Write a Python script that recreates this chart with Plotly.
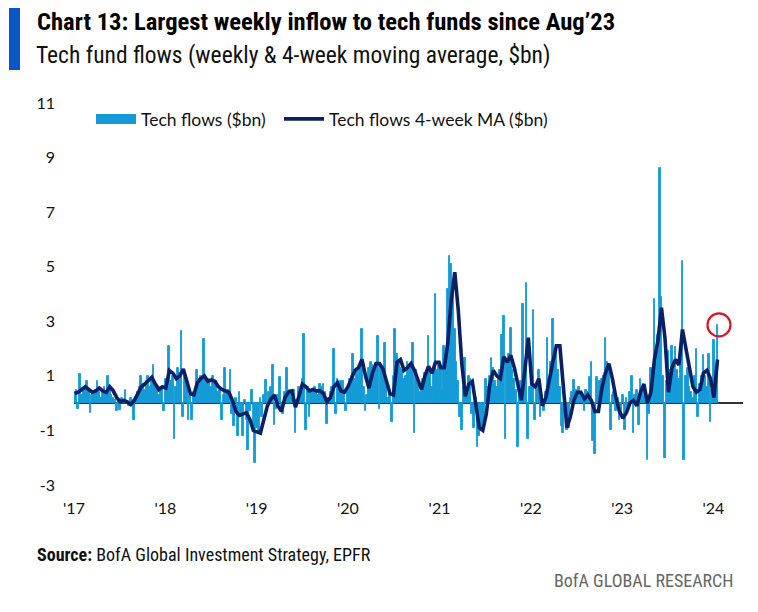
import pandas as pd
import plotly.graph_objects as go

# ---------------- data ($bn) ----------------
years = [2017, 2018, 2019, 2020, 2021, 2022, 2023, 2024]

flows_2017 = [0.4, 0.5, -0.2, 1.05, 0.3, 0.5, 0.6, 0.8, 0.5, -0.35, 0.3, 0.4, 0.5, 0.8, 0.4, 0.2, 0.5, 0.6, 0.4, 1.0,
              0.6, 0.3, 0.2, 0.1, -0.3, 0.1, -0.25, 0.2, 0.1, 0.5, 0.0, -0.1, 0.2, 0.1, -0.6, 0.2, 0.4, 0.6, 1.0, 0.7,
              0.5, 0.8, 1.0, 0.6, 0.9, 1.4, 0.7, 0.5, 0.3, 0.6, 0.6, -0.3]
flows_2018 = [0.9, 0.6, 2.1, 0.8, 1.0, -1.3, 0.6, 1.3, 1.1, 2.65, -0.5, 1.0, 0.8, -0.6, 0.3, -0.6, 0.4, 0.5, 1.2, 0.9,
              1.0, 0.8, 2.35, 0.9, 0.7, 0.9, 0.6, 1.0, 0.7, 0.8, 0.4, 0.5, -0.6, 0.3, 1.3, 0.4, 0.5, 1.2, -0.4, -0.85,
              0.2, -1.2, 0.4, -0.5, -1.2, 0.1, -0.6, -1.7, -0.3, 0.5, -0.8, -2.2]
flows_2019 = [-0.9, -1.1, 0.2, -0.5, 0.3, 0.85, -0.3, 0.4, 0.6, 1.4, -0.8, -0.2, 0.3, 0.95, -0.3, -0.4, 0.4, 1.3, 0.3, 0.5,
              0.2, 0.5, -1.1, 0.1, 0.6, 0.4, 0.9, 2.55, -1.0, 0.6, -0.5, 0.5, 0.4, 0.6, 0.5, 0.3, 0.7, 0.6, 0.7, 0.4,
              -0.75, 0.2, 0.4, 0.6, 2.0, -0.4, 0.9, 0.6, 0.8, 0.8, 0.3, -0.3]
flows_2020 = [0.5, 0.9, 1.0, 1.8, 0.9, 1.2, 1.0, 1.4, 2.7, 0.6, -0.3, 0.3, 1.3, 1.5, 1.4, 1.0, 1.3, 2.45, -0.2, 1.4,
              1.2, 2.2, 0.6, 0.2, 0.3, -0.7, 1.0, 2.7, 1.8, 1.5, 1.3, 1.2, 0.9, 1.0, 1.5, 1.4, 1.3, 2.2, -1.1, 1.2,
              0.9, 0.4, 0.6, 0.9, 1.1, 1.0, 2.45, 1.3, 0.6, 1.2, 4.0, 1.2, 1.5]
flows_2021 = [1.2, 0.5, 2.1, 1.4, 4.2, 5.4, 5.1, 4.4, 2.7, 1.5, 0.8, -0.5, -1.0, 0.6, 1.65, 0.5, 1.0, 0.9, -0.4, -0.9,
              0.2, -1.6, -1.2, -1.0, -0.8, -0.5, 0.9, 0.6, 1.0, 1.65, 1.3, 0.8, 0.6, 0.9, 1.2, 2.5, 3.2, -1.3, 1.5, 1.8,
              2.75, 1.2, 0.9, 0.5, -1.6, 0.3, 0.8, 3.65, 1.5, 4.4, -1.3, 0.6]
flows_2022 = [0.8, 3.4, -0.6, 0.5, 1.2, -0.5, 0.3, -0.3, 0.4, 2.4, 0.9, 1.5, 3.1, 1.8, 2.0, 1.2, 0.6, -0.85, -1.1, -0.4,
              -1.0, -0.9, 0.2, 0.4, 0.85, 0.5, 0.3, 0.6, 0.4, 0.1, -0.3, 0.5, 0.4, 0.95, 1.5, -1.4, -1.85, 0.95, 0.3, 0.8,
              0.9, 1.0, 2.4, 1.5, 1.3, -1.0, 0.3, 0.4, -0.3, 0.2, -0.6, -0.4]
flows_2023 = [0.3, -1.0, 0.2, -0.3, 0.4, 1.0, -1.1, 0.3, 0.5, -0.8, 0.9, 0.5, 0.6, 0.2, -2.1, -0.4, 1.3, 0.9, 3.8, 1.5,
              2.5, 8.6, 3.9, 1.0, -2.0, 0.8, 1.9, 1.2, 2.1, 1.5, 2.05, 1.2, 0.9, 1.4, 5.2, -2.1, 1.0, 1.3, 0.6, 0.4,
              0.2, 1.0, 2.0, -0.5, 0.7, 1.0, 1.75, 1.0, 0.6, 1.8, -0.7, 0.5]
flows_2024 = [2.3, 1.2, 2.85]

# 4-week moving average, read every second week
ma_2017 = [0.35, 0.4, 0.5, 0.6, 0.5, 0.4, 0.45, 0.55, 0.45, 0.4, 0.6, 0.45, 0.2, 0.05, 0.1, 0.05, -0.05, 0.1, 0.35,
           0.6, 0.7, 0.85, 0.95, 0.7, 0.5, 0.6]
ma_2018 = [0.55, 1.2, 1.1, 0.9, 1.0, 1.25, 0.75, 0.35, 0.3, 0.75, 0.9, 1.0, 0.8, 0.85, 0.8, 0.6, 0.5, 0.45, 0.4, 0.1,
           -0.3, -0.45, -0.4, -0.35, -0.6, -1.0]
ma_2019 = [-1.05, -1.1, -0.6, -0.1, 0.15, 0.3, -0.1, -0.3, 0.2, 0.4, 0.45, -0.15, 0.25, 0.7, 0.6, 0.45, 0.5, 0.45, 0.45,
           0.35, 0.05, 0.2, 0.6, 0.75, 0.45, 0.4]
ma_2020 = [0.6, 0.9, 1.2, 1.3, 1.6, 1.0, 0.55, 1.1, 1.45, 1.45, 1.25, 0.8, 0.35, 0.3, 1.5, 1.6, 1.2, 1.3, 1.45, 1.2,
           0.85, 0.5, 1.0, 1.35, 1.1, 1.5, 1.5]
ma_2021 = [1.3, 1.3, 2.2, 3.8, 4.8, 3.4, 1.45, 0.25, 0.7, 0.8, 0.0, -0.9, -1.0, -0.4, 0.7, 1.2, 1.0, 0.9, 1.7, 1.5,
           1.75, 1.3, 0.7, 0.1, 1.2, 2.4]
ma_2022 = [0.7, 0.6, 0.9, -0.1, 0.2, 0.9, 1.5, 2.1, 2.1, 0.6, -0.9, -0.5, 0.1, 0.4, 0.4, 0.15, 0.3, 0.1, -0.3, -0.3,
           0.55, 1.1, 1.45, 0.9, 0.2, -0.3]
ma_2023 = [-0.55, -0.35, 0.0, 0.1, -0.1, 0.4, 0.7, 0.0, 0.4, 1.6, 2.3, 3.5, 2.4, 0.4, 1.3, 1.6, 1.4, 2.7, 2.0, 1.3,
           0.6, 0.4, 0.5, 1.1, 1.2, 0.9]
ma_2024 = [0.2, 1.6]

y_tickvals = [-3, -1, 1, 3, 5, 7, 9, 11]
y_ticktext = ["-3", "-1", "1", "3", "5", "7", "9", "11"]
x_ticktext = ["'17", "'18", "'19", "'20", "'21", "'22", "'23", "'24"]

flows_by_year = [flows_2017, flows_2018, flows_2019, flows_2020, flows_2021, flows_2022, flows_2023, flows_2024]
ma_by_year = [ma_2017, ma_2018, ma_2019, ma_2020, ma_2021, ma_2022, ma_2023, ma_2024]

# ---------------- build series ----------------
bar_x, bar_y, ma_x, ma_y = [], [], [], []
for yr, fl, ma in zip(years, flows_by_year, ma_by_year):
    d = pd.date_range(f"{yr}-01-01", periods=len(fl), freq="W-WED")
    bar_x += list(d)
    bar_y += fl
    dm = pd.date_range(d[0], periods=len(ma), freq="14D")
    ma_x += list(dm)
    ma_y += ma

# ---------------- geometry helpers (page pixels -> paper) ----------------
OFF = 8                      # browser default body margin
FW, FH = 750, 604            # figure size so that page = 758 x 612
L, R, T, B = 74, 743, 103, 485  # plot area in page pixels


def px_x(p):
    return (p - L) / (R - L)


def px_y(p):
    return (B - p) / (B - T)


BAR_COL = "#149bd7"
MA_COL = "#0b1f66"
TXT_FONT = "Roboto Condensed, Liberation Sans Narrow, Roboto, sans-serif"
AX_FONT = "Lato, Carlito, sans-serif"

fig = go.Figure()
fig.add_trace(go.Bar(x=bar_x, y=bar_y, name="Tech flows ($bn)", showlegend=False,
                     marker=dict(color=BAR_COL, line=dict(width=0.9, color=BAR_COL))))
# legend-only swatch drawn as a wide, thick line (looks like the reference's rectangle key)
fig.add_trace(go.Scatter(x=[None], y=[None], mode="lines", name="Tech flows ($bn)",
                         line=dict(color=BAR_COL, width=17), legend="legend"))
fig.add_trace(go.Scatter(x=ma_x, y=ma_y, mode="lines", name="Tech flows 4-week MA ($bn)",
                         line=dict(color=MA_COL, width=3.6), legend="legend2"))

leg_common = dict(orientation="h", xanchor="left", yanchor="top", bgcolor="rgba(0,0,0,0)",
                  font=dict(family=AX_FONT, size=17.5, color="#111"), itemwidth=40)

fig.update_layout(
    width=FW, height=FH,
    margin=dict(l=L - OFF, r=OFF + FW - R, t=T - OFF, b=OFF + FH - B, pad=0),
    paper_bgcolor="white", plot_bgcolor="white",
    bargap=0,
    showlegend=True,
    legend=dict(x=px_x(91), y=px_y(101), **leg_common),
    legend2=dict(x=px_x(279), y=px_y(101), **leg_common),
    xaxis=dict(type="date", range=["2017-01-01", "2024-04-28"],
               tickvals=[f"{y}-01-01" for y in years], ticktext=x_ticktext,
               showgrid=False, showline=False, zeroline=False, ticks="",
               ticklabelstandoff=12,
               tickfont=dict(family=AX_FONT, size=16, color="#111")),
    yaxis=dict(range=[-3, 11], tickvals=y_tickvals, ticktext=y_ticktext,
               showgrid=False, showline=False, ticks="",
               zeroline=True, zerolinecolor="#333333", zerolinewidth=1.6,
               ticklabelstandoff=18,
               tickfont=dict(family=AX_FONT, size=16, color="#111")),
)

shapes = [
    dict(type="rect", xref="paper", yref="paper", x0=px_x(9), x1=px_x(20), y0=px_y(70), y1=px_y(8),
         fillcolor="#0b55c8", line=dict(width=0)),
    dict(type="circle", xref="x", yref="y", xsizemode="pixel", ysizemode="pixel",
         xanchor=bar_x[-1], yanchor=bar_y[-1], x0=-10, x1=13, y0=-11, y1=12,
         line=dict(color="#d9141e", width=2.2)),
]
fig.update_layout(shapes=shapes)

annotations = [
    dict(text="<b>Chart 13: Largest weekly inflow to tech funds since Aug’23</b>", x=px_x(35), y=px_y(22),
         xref="paper", yref="paper", xanchor="left", yanchor="middle", showarrow=False,
         font=dict(family=TXT_FONT, size=24.6, color="#000")),
    dict(text="Tech fund flows (weekly & 4-week moving average, $bn)", x=px_x(34), y=px_y(55),
         xref="paper", yref="paper", xanchor="left", yanchor="middle", showarrow=False,
         font=dict(family=TXT_FONT, size=23.5, color="#111")),
    dict(text="<b>Source:</b> BofA Global Investment Strategy, EPFR", x=px_x(35), y=px_y(554),
         xref="paper", yref="paper", xanchor="left", yanchor="middle", showarrow=False,
         font=dict(family=TXT_FONT, size=18, color="#111")),
    dict(text="BofA GLOBAL RESEARCH", x=px_x(736), y=px_y(580),
         xref="paper", yref="paper", xanchor="right", yanchor="middle", showarrow=False,
         font=dict(family=TXT_FONT, size=18, color="#666")),
]
fig.update_layout(annotations=annotations)

fig.write_html("out.html")
